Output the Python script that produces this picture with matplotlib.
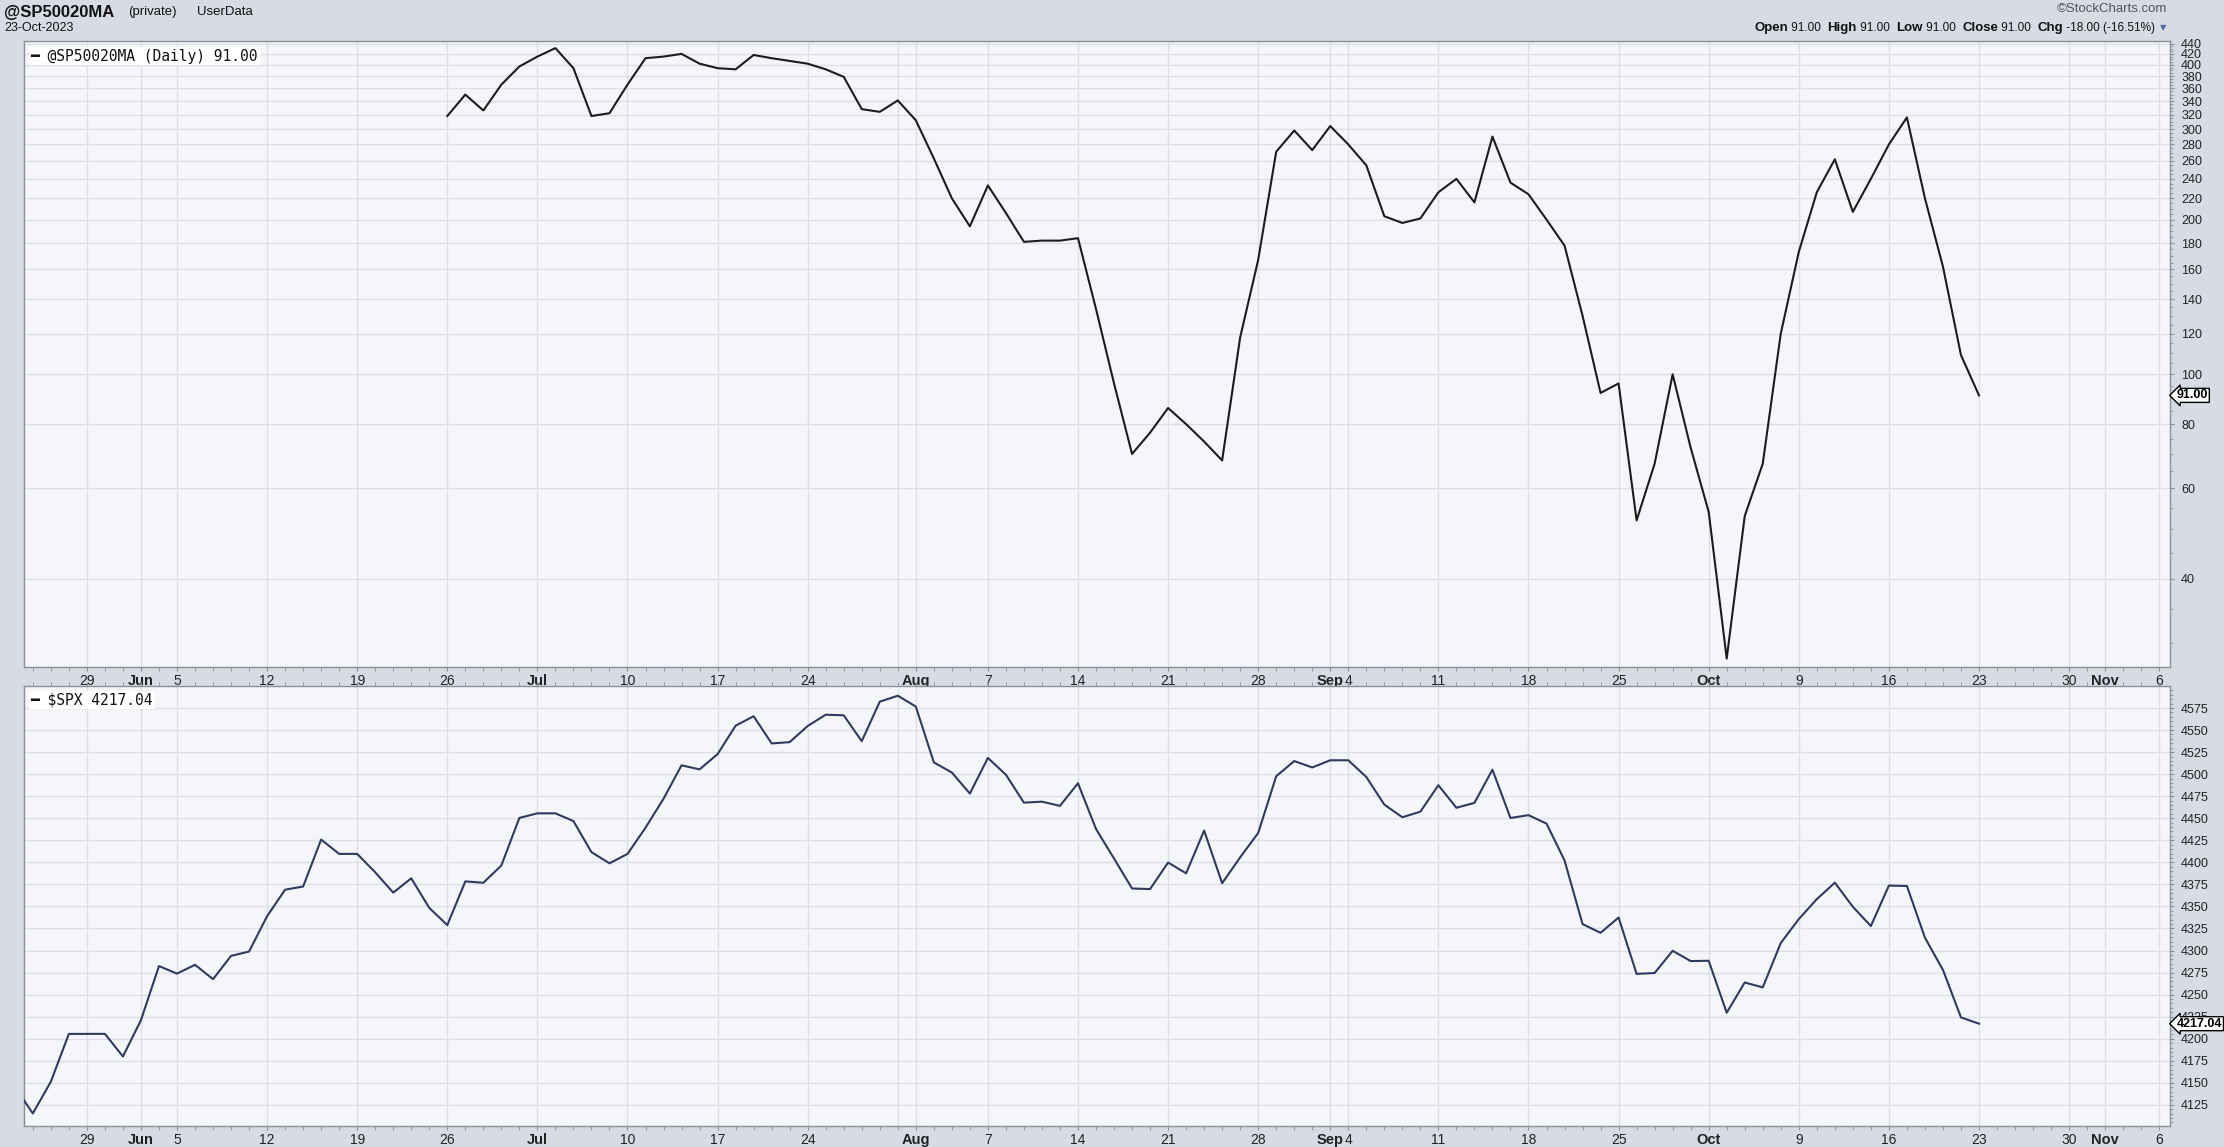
import numpy as np
import pandas as pd
import matplotlib
matplotlib.use("Agg")
import matplotlib.pyplot as plt
from matplotlib.ticker import FixedLocator, NullFormatter, FixedFormatter

# ---- data -------------------------------------------------------------
# S&P 500 close, one value per weekday from 23-May-2023 (holidays carry the prior close)
spx_start = "2023-05-23"
spx_close = [
    4145.58, 4115.24, 4151.28, 4205.45, 4205.45, 4205.52, 4179.83,
    4221.02, 4282.37, 4273.79, 4283.85, 4267.52, 4293.93, 4298.86,
    4338.93, 4369.01, 4372.59, 4425.84, 4409.59, 4409.59, 4388.71,
    4365.69, 4381.89, 4348.33, 4328.82, 4378.41, 4376.86, 4396.44, 4450.38,
    4455.59, 4455.59, 4446.82, 4411.59, 4398.95, 4409.53, 4439.26, 4472.16,
    4510.04, 4505.42, 4522.79, 4554.98, 4565.72, 4534.87, 4536.34, 4554.64,
    4567.46, 4566.75, 4537.41, 4582.23, 4588.96,
    4576.73, 4513.39, 4501.89, 4478.03, 4518.44, 4499.38, 4467.71, 4468.83,
    4464.05, 4489.72, 4437.86, 4404.33, 4370.36, 4369.71, 4399.77, 4387.55,
    4436.01, 4376.31, 4405.71, 4433.31, 4497.63, 4514.87, 4507.66,
    4515.77, 4515.77, 4496.83, 4465.48, 4451.14, 4457.49, 4487.46, 4461.90,
    4467.44, 4505.10, 4450.32, 4453.53, 4443.95, 4402.20, 4330.00, 4320.06,
    4337.44, 4273.53, 4274.51, 4299.70, 4288.05,
    4288.39, 4229.45, 4263.75, 4258.19, 4308.50, 4335.66, 4358.24, 4376.95,
    4349.61, 4327.78, 4373.63, 4373.20, 4314.60, 4278.00, 4224.16, 4217.04,
]

# @SP50020MA, one value per weekday from 26-Jun-2023
ma_start = "2023-06-26"
ma_values = [
    318, 350, 326, 366, 397, 415, 431, 394, 318, 322,
    366, 412, 415, 420, 402, 394, 392, 418, 412, 407,
    402, 392, 379, 328, 324, 341, 312, 263, 220, 194,
    233, 206, 181, 182, 182, 184, 134, 96, 70, 77,
    86, 80, 74, 68, 118, 167, 271, 298, 273, 304,
    280, 255, 203, 197, 201, 226, 240, 216, 290, 236,
    224, 200, 178, 130, 92, 96, 52, 67, 100, 72,
    54, 28, 53, 67, 120, 173, 226, 262, 207, 240,
    280, 316, 220, 162, 109, 91,
]

tick_dates = ["2023-05-29", "2023-06-01", "2023-06-05", "2023-06-12", "2023-06-19",
              "2023-06-26", "2023-07-03", "2023-07-10", "2023-07-17", "2023-07-24",
              "2023-08-01", "2023-08-07", "2023-08-14", "2023-08-21", "2023-08-28",
              "2023-09-01", "2023-09-04", "2023-09-11", "2023-09-18", "2023-09-25",
              "2023-10-02", "2023-10-09", "2023-10-16", "2023-10-23", "2023-10-30",
              "2023-11-01", "2023-11-06"]
tick_labels = ["29", "Jun", "5", "12", "19", "26", "Jul", "10", "17", "24", "Aug", "7",
               "14", "21", "28", "Sep", "4", "11", "18", "25", "Oct", "9", "16", "23",
               "30", "Nov", "6"]
month_labels = {"Jun", "Jul", "Aug", "Sep", "Oct", "Nov"}
extra_grid_dates = ["2023-07-31"]

ma_ticks = [40, 60, 80, 100, 120, 140, 160, 180, 200, 220, 240, 260, 280, 300,
            320, 340, 360, 380, 400, 420, 440]
spx_ticks = list(range(4125, 4576, 25))

# ---- helpers ----------------------------------------------------------
base = "2023-05-23"


def pos(d):
    return float(np.busday_count(base, np.datetime64(d, "D")))


spx_x = pos(spx_start) + np.arange(len(spx_close))
ma_x = pos(ma_start) + np.arange(len(ma_values))

xmin = pos("2023-05-24") - 0.49
xmax = pos("2023-11-06") + 0.6

BG = "#d6dbe4"
PLOT_BG = "#f5f6fa"
GRID = "#dcdfe6"
SPINE = "#8a8f99"
SANS = ["Liberation Sans", "DejaVu Sans"]

W, H = 2224, 1147
fig = plt.figure(figsize=(W / 100, H / 100), dpi=100, facecolor=BG)


def frac_box(left, top, right, bottom):
    return [left / W, 1 - bottom / H, (right - left) / W, (bottom - top) / H]


ax1 = fig.add_axes(frac_box(24, 41, 2170, 667))
ax2 = fig.add_axes(frac_box(24, 686, 2170, 1126))

grid_x = [pos(d) for d in tick_dates + extra_grid_dates]
minor_x = np.arange(np.ceil(xmin), xmax)

for ax in (ax1, ax2):
    ax.set_facecolor(PLOT_BG)
    ax.set_xlim(xmin, xmax)
    for gx in grid_x:
        ax.axvline(gx, color=GRID, lw=1.0, zorder=0)
    for s in ax.spines.values():
        s.set_color(SPINE)
        s.set_linewidth(1.0)
    ax.yaxis.tick_right()
    ax.xaxis.set_major_locator(FixedLocator([pos(d) for d in tick_dates]))
    ax.xaxis.set_minor_locator(FixedLocator(minor_x))
    ax.xaxis.set_major_formatter(FixedFormatter(tick_labels))
    ax.tick_params(axis="x", which="both", direction="out", length=3, color=SPINE,
                   labelsize=10, pad=2)
    ax.tick_params(axis="y", which="major", direction="out", length=3, color=SPINE,
                   labelsize=9, pad=5)
    ax.tick_params(axis="y", which="minor", direction="out", length=2, color=SPINE)

# top panel
ax1.set_yscale("log")
ax1.set_ylim(26.96, 445)
ax1.yaxis.set_major_locator(FixedLocator(ma_ticks))
ax1.yaxis.set_major_formatter(FixedFormatter([str(t) for t in ma_ticks]))
ax1.yaxis.set_minor_locator(FixedLocator(np.arange(30, 445, 5)))
ax1.yaxis.set_minor_formatter(NullFormatter())
for t in ma_ticks:
    ax1.axhline(t, color=GRID, lw=1.0, zorder=0)
ax1.plot(ma_x, ma_values, color="#1c1c1c", lw=1.5, zorder=3)

# bottom panel
ax2.set_ylim(4101, 4600)
ax2.yaxis.set_major_locator(FixedLocator(spx_ticks))
ax2.yaxis.set_minor_locator(FixedLocator(np.arange(4105, 4600, 5)))
ax2.yaxis.set_minor_formatter(NullFormatter())
for t in spx_ticks:
    ax2.axhline(t, color=GRID, lw=1.0, zorder=0)
ax2.plot(spx_x, spx_close, color="#2f3b5c", lw=1.5, zorder=3)
ax2.xaxis.set_tick_params(top=True, which="both")

for ax in (ax1, ax2):
    for lab in ax.get_xticklabels():
        lab.set_family(SANS)
        lab.set_color("#222222")
        if lab.get_text() in month_labels:
            lab.set_fontweight("bold")
            lab.set_fontsize(10.5)
    for lab in ax.get_yticklabels():
        lab.set_family(SANS)
        lab.set_color("#222222")

# last-value tags on the price axis
for ax, val, txt in ((ax1, ma_values[-1], "91.00"), (ax2, spx_close[-1], "4217.04")):
    ax.annotate(txt, xy=(1.0, val), xycoords=("axes fraction", "data"),
                xytext=(5, 0), textcoords="offset points", ha="left", va="center",
                fontsize=9, fontweight="bold", family=SANS,
                bbox=dict(boxstyle="larrow,pad=0.08", fc="white", ec="black", lw=1.0),
                zorder=10, annotation_clip=False)

# legends inside panels
ax1.text(0.003, 0.988, "\u2501 @SP50020MA (Daily) 91.00", transform=ax1.transAxes,
         ha="left", va="top", fontsize=10.5, family="DejaVu Sans Mono", color="#111111",
         bbox=dict(boxstyle="square,pad=0.12", fc="white", ec="none"))
ax2.text(0.003, 0.985, "\u2501 $SPX 4217.04", transform=ax2.transAxes,
         ha="left", va="top", fontsize=10.5, family="DejaVu Sans Mono", color="#111111",
         bbox=dict(boxstyle="square,pad=0.12", fc="white", ec="none"))

# header
fig.text(4 / W, 1 - 12 / H, "@SP50020MA", ha="left", va="center", fontsize=12,
         fontweight="bold", family=SANS, color="#111111")
fig.text(128 / W, 1 - 12 / H, "(private)", ha="left", va="center", fontsize=9.5,
         family=SANS, color="#111111")
fig.text(197 / W, 1 - 12 / H, "UserData", ha="left", va="center", fontsize=9.5,
         family=SANS, color="#111111")
fig.text(4 / W, 1 - 28 / H, "23-Oct-2023", ha="left", va="center", fontsize=9,
         family=SANS, color="#111111")
fig.text(2167 / W, 1 - 9 / H, "\u00a9StockCharts.com", ha="right", va="center", fontsize=9.5,
         family=SANS, color="#555555")

parts = [("Open", True), (" 91.00  ", False), ("High", True), (" 91.00  ", False),
         ("Low", True), (" 91.00  ", False), ("Close", True), (" 91.00  ", False),
         ("Chg", True), (" -18.00 (-16.51%)", False)]
fig.canvas.draw()
renderer = fig.canvas.get_renderer()
x_right = 2155
widths = []
items = []
for s, bold in parts:
    t = fig.text(0, 0, s, fontsize=9.5 if bold else 8.5, fontweight="bold" if bold else "normal",
                 family=SANS, color="#111111")
    items.append(t)
    widths.append(t.get_window_extent(renderer).width)
x = x_right - sum(widths)
for t, w in zip(items, widths):
    t.set_position((x / W, 1 - 28 / H))
    t.set_va("center")
    x += w
fig.text(2163 / W, 1 - 28 / H, "\u25bc", ha="center", va="center", fontsize=6,
         color="#4a6fa5")

fig.savefig("out.png", dpi=100, facecolor=BG)
